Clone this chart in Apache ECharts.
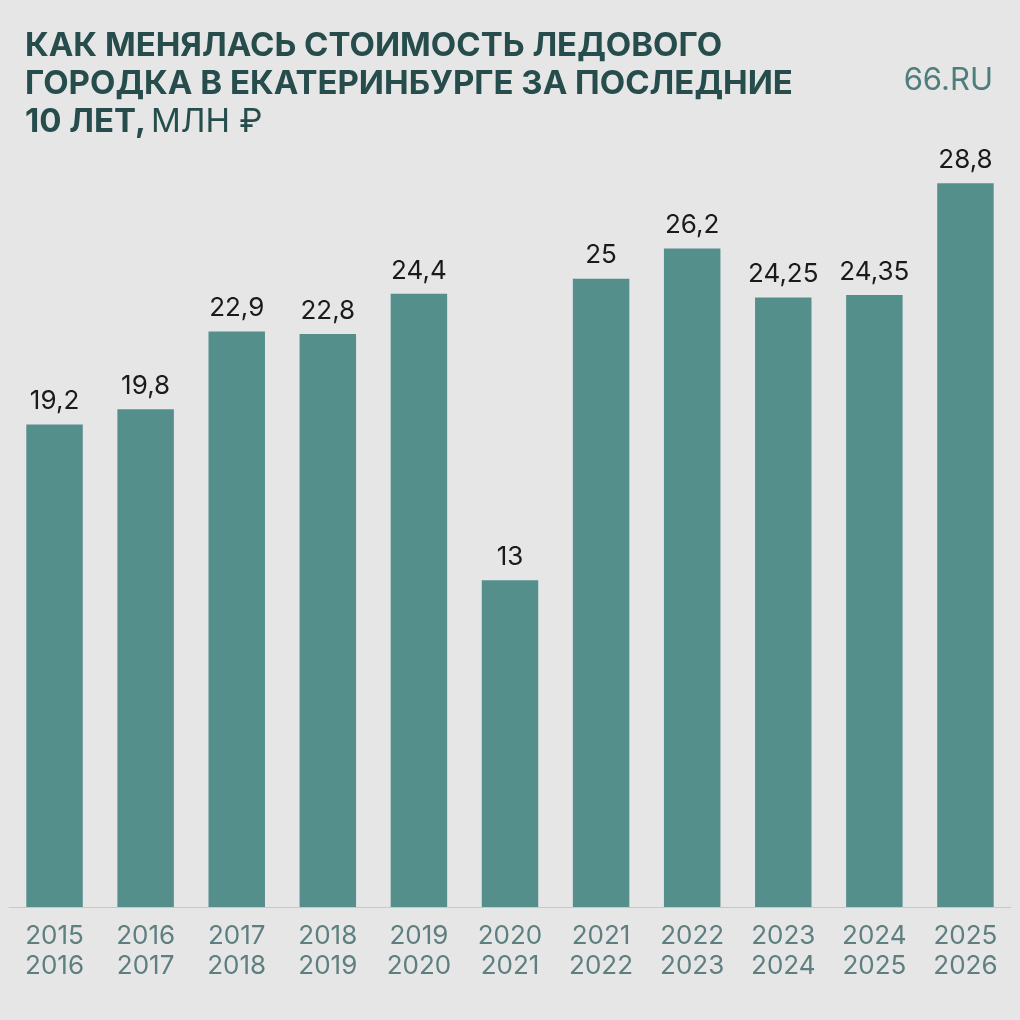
<!DOCTYPE html>
<html><head><meta charset="utf-8">
<script src="https://cdn.jsdelivr.net/npm/echarts@6/dist/echarts.min.js"></script>
<style>html,body{margin:0;padding:0;background:#e6e6e6}#c{width:1020px;height:1020px}</style>
</head><body><div id="c"></div>
<script>
const categories = ['2015\n2016','2016\n2017','2017\n2018','2018\n2019','2019\n2020','2020\n2021','2021\n2022','2022\n2023','2023\n2024','2024\n2025','2025\n2026'];
const values = [19.2,19.8,22.9,22.8,24.4,13,25,26.2,24.25,24.35,28.8];
const chart = echarts.init(document.getElementById('c'));
chart.setOption({
  backgroundColor:'#e6e6e6',
  title:[{text:'{b|КАК МЕНЯЛАСЬ СТОИМОСТЬ ЛЕДОВОГО\nГОРОДКА В ЕКАТЕРИНБУРГЕ ЗА ПОСЛЕДНИЕ\n10 ЛЕТ,} {n|МЛН ₽}',left:20,top:22,
    textStyle:{rich:{b:{fontFamily:'Inter',fontWeight:'bold',fontSize:33,color:'#264c4c',lineHeight:38},n:{fontFamily:'Inter',fontWeight:'normal',fontSize:33,color:'#264c4c',lineHeight:38}}}},
    {text:'66.RU',right:22,top:60,textStyle:{fontFamily:'Inter',fontWeight:'normal',fontSize:31,color:'#4f7d7d'}}],
  grid:{left:9,right:9,top:153,bottom:113},
  xAxis:{type:'category',data:categories,axisTick:{show:false},axisLine:{lineStyle:{color:'#c8c8c8',width:1}},
    axisLabel:{fontFamily:'Inter',fontSize:26,color:'#5e7f80',lineHeight:30,margin:14}},
  yAxis:{type:'value',min:0,max:30,show:false,splitLine:{show:false}},
  series:[{type:'bar',data:values,barWidth:'62%',itemStyle:{color:'#558f8c'},
    label:{show:true,position:'top',distance:10,fontFamily:'Inter',fontSize:26,color:'#1a1a1a',formatter:p=>String(p.value).replace('.',',')}}]
});
</script></body></html>
